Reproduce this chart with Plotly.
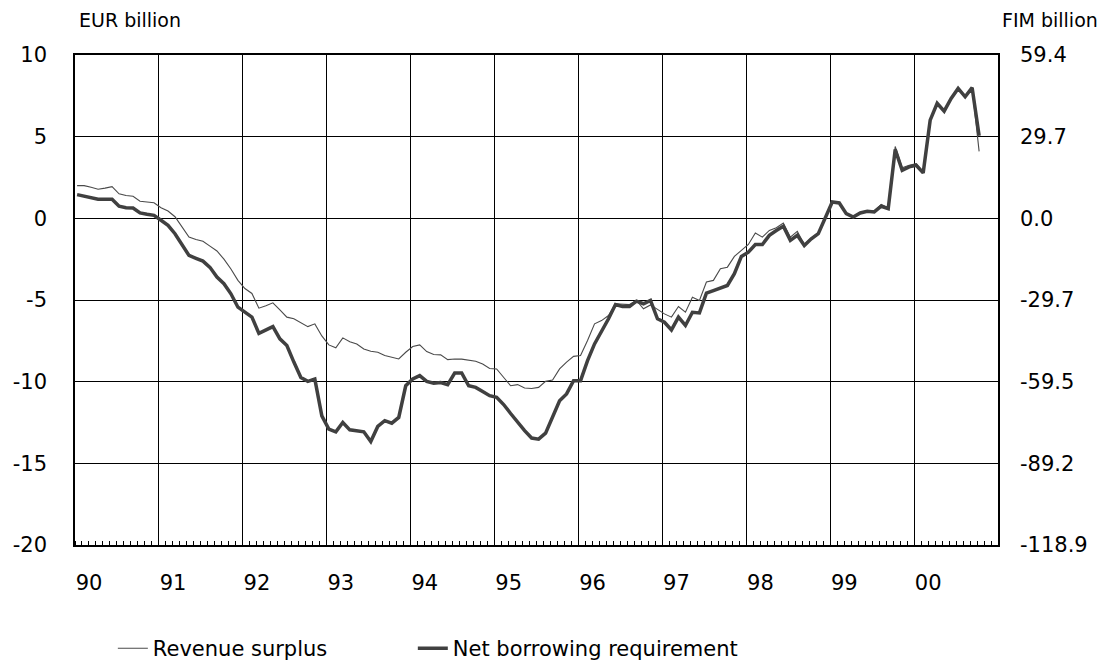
import plotly.graph_objects as go

# monthly observations, Jan 1990 onwards (EUR billion)
revenue_surplus = [
    2.0, 2.0, 1.9, 1.78, 1.85, 1.94, 1.5, 1.4, 1.35, 1.05, 1.0, 0.95,
    0.65, 0.45, 0.1, -0.5, -1.15, -1.3, -1.4, -1.7, -2.0, -2.5, -3.1, -3.8,
    -4.3, -4.6, -5.5, -5.35, -5.17, -5.6, -6.05, -6.15, -6.4, -6.63, -6.46, -7.2,
    -7.75, -7.93, -7.32, -7.55, -7.69, -8.0, -8.14, -8.2, -8.4, -8.5, -8.61, -8.2,
    -7.85, -7.75, -8.16, -8.34, -8.36, -8.65, -8.61, -8.62, -8.67, -8.75, -8.92, -9.19,
    -9.22, -9.74, -10.25, -10.18, -10.39, -10.42, -10.35, -9.98, -9.9, -9.22, -8.8, -8.45,
    -8.4, -7.48, -6.46, -6.26, -5.95, -5.23, -5.25, -5.28, -5.03, -5.54, -5.3, -5.6,
    -5.85, -6.05, -5.4, -5.75, -4.83, -5.03, -3.9, -3.8, -3.09, -2.99, -2.33, -1.96,
    -1.6, -0.9, -1.15, -0.74, -0.57, -0.29, -1.15, -0.8, -1.6, -1.2, -0.9, 0.05,
    1.0, 0.95, 0.3, 0.1, 0.35, 0.45, 0.45, 0.85, 0.65, 4.4, 3.1, 3.25,
    3.35, 2.85, 6.0, 7.0, 6.55, 7.35, 7.95, 7.45, 8.0, 4.1,
]
net_borrowing = [
    1.45, 1.35, 1.25, 1.17, 1.17, 1.17, 0.74, 0.65, 0.63, 0.33, 0.25, 0.18,
    -0.12, -0.43, -0.94, -1.6, -2.27, -2.45, -2.62, -3.0, -3.6, -4.0, -4.62, -5.44,
    -5.75, -6.05, -7.04, -6.85, -6.63, -7.38, -7.79, -8.8, -9.74, -9.98, -9.84, -12.09,
    -12.9, -13.07, -12.5, -12.95, -13.0, -13.07, -13.66, -12.74, -12.39, -12.54, -12.19, -10.25,
    -9.84, -9.63, -9.98, -10.1, -10.05, -10.18, -9.47, -9.47, -10.25, -10.35, -10.6, -10.86,
    -10.96, -11.4, -11.95, -12.5, -13.0, -13.45, -13.52, -13.15, -12.09, -11.17, -10.75, -9.94,
    -9.94, -8.71, -7.69, -6.97, -6.15, -5.28, -5.4, -5.4, -5.07, -5.23, -5.03, -6.15,
    -6.36, -6.83, -6.05, -6.56, -5.75, -5.79, -4.58, -4.42, -4.25, -4.11, -3.39, -2.33,
    -2.07, -1.6, -1.6, -1.04, -0.75, -0.49, -1.35, -1.04, -1.66, -1.25, -0.94, 0.0,
    1.0, 0.94, 0.29, 0.08, 0.33, 0.43, 0.39, 0.74, 0.59, 4.21, 2.94, 3.15,
    3.25, 2.78, 6.01, 7.04, 6.56, 7.34, 7.95, 7.44, 8.0, 5.06,
]

years = list(range(1990, 2001))
year_labels = ["90", "91", "92", "93", "94", "95", "96", "97", "98", "99", "00"]
eur_ticks = [-20, -15, -10, -5, 0, 5, 10]
eur_labels = ["-20", "-15", "-10", "-5", "0", "5", "10"]
fim_labels = ["-118.9", "-89.2", "-59.5", "-29.7", "0.0", "29.7", "59.4"]

months = [1990 + (i + 0.3) / 12 for i in range(len(net_borrowing))]

FONT = "DejaVu Sans, Arial, sans-serif"

fig = go.Figure()
fig.add_trace(go.Scatter(
    x=months, y=revenue_surplus, mode="lines", name="Revenue surplus",
    line=dict(color="#4a4a4a", width=1.1), legend="legend",
))
fig.add_trace(go.Scatter(
    x=months, y=net_borrowing, mode="lines", name="Net borrowing requirement",
    line=dict(color="#404040", width=3.5), legend="legend2",
))
# invisible trace so the right-hand FIM axis is drawn
fig.add_trace(go.Scatter(
    x=months, y=net_borrowing, yaxis="y2", mode="lines", showlegend=False,
    hoverinfo="skip", line=dict(color="rgba(0,0,0,0)", width=0),
))

# legends sit in the bottom margin, placed against the whole figure
legend_style = dict(
    orientation="h", yref="container", yanchor="middle", y=0.025,
    font=dict(size=21), bgcolor="rgba(0,0,0,0)", xanchor="left",
)

fig.update_layout(
    width=1098, height=657, autosize=False,
    margin=dict(l=67, r=108, t=47, b=120),
    paper_bgcolor="white", plot_bgcolor="white",
    font=dict(family=FONT, size=21, color="black"),
    xaxis=dict(
        range=[1990, 2001], tickmode="array", tickvals=years, ticktext=year_labels,
        ticks="", ticklabelposition="outside right", ticklabelstandoff=18,
        showgrid=True, gridcolor="black", gridwidth=1,
        showline=True, linecolor="black", linewidth=1.5, mirror=True,
        zeroline=False, automargin=False,
        minor=dict(ticks="inside", ticklen=4, tickcolor="black", tickwidth=1,
                   tickmode="linear", tick0=1990, dtick=1 / 12, showgrid=False),
    ),
    yaxis=dict(
        range=[-20, 10], tickmode="array", tickvals=eur_ticks, ticktext=eur_labels,
        ticks="inside", ticklen=6, tickcolor="black", ticklabelstandoff=22,
        showgrid=True, gridcolor="black", gridwidth=1,
        showline=True, linecolor="black", linewidth=1.5, mirror=True,
        zeroline=False, automargin=False,
    ),
    yaxis2=dict(
        range=[-20, 10], overlaying="y", side="right", tickmode="array",
        tickvals=eur_ticks, ticktext=fim_labels,
        ticks="inside", ticklen=6, tickcolor="black", ticklabelstandoff=21,
        showgrid=False, zeroline=False, showline=False, automargin=False,
    ),
    legend=dict(x=0.041, **legend_style),
    legend2=dict(x=0.366, **legend_style),
    annotations=[
        dict(text="EUR billion", x=0.002, xref="paper", xanchor="left", y=1.0714,
             yref="paper", yanchor="middle", showarrow=False, font=dict(size=19)),
        dict(text="FIM billion", x=1.002, xref="paper", xanchor="left", y=1.0714,
             yref="paper", yanchor="middle", showarrow=False, font=dict(size=19)),
    ],
    showlegend=True,
)

fig.write_html("out.html")
